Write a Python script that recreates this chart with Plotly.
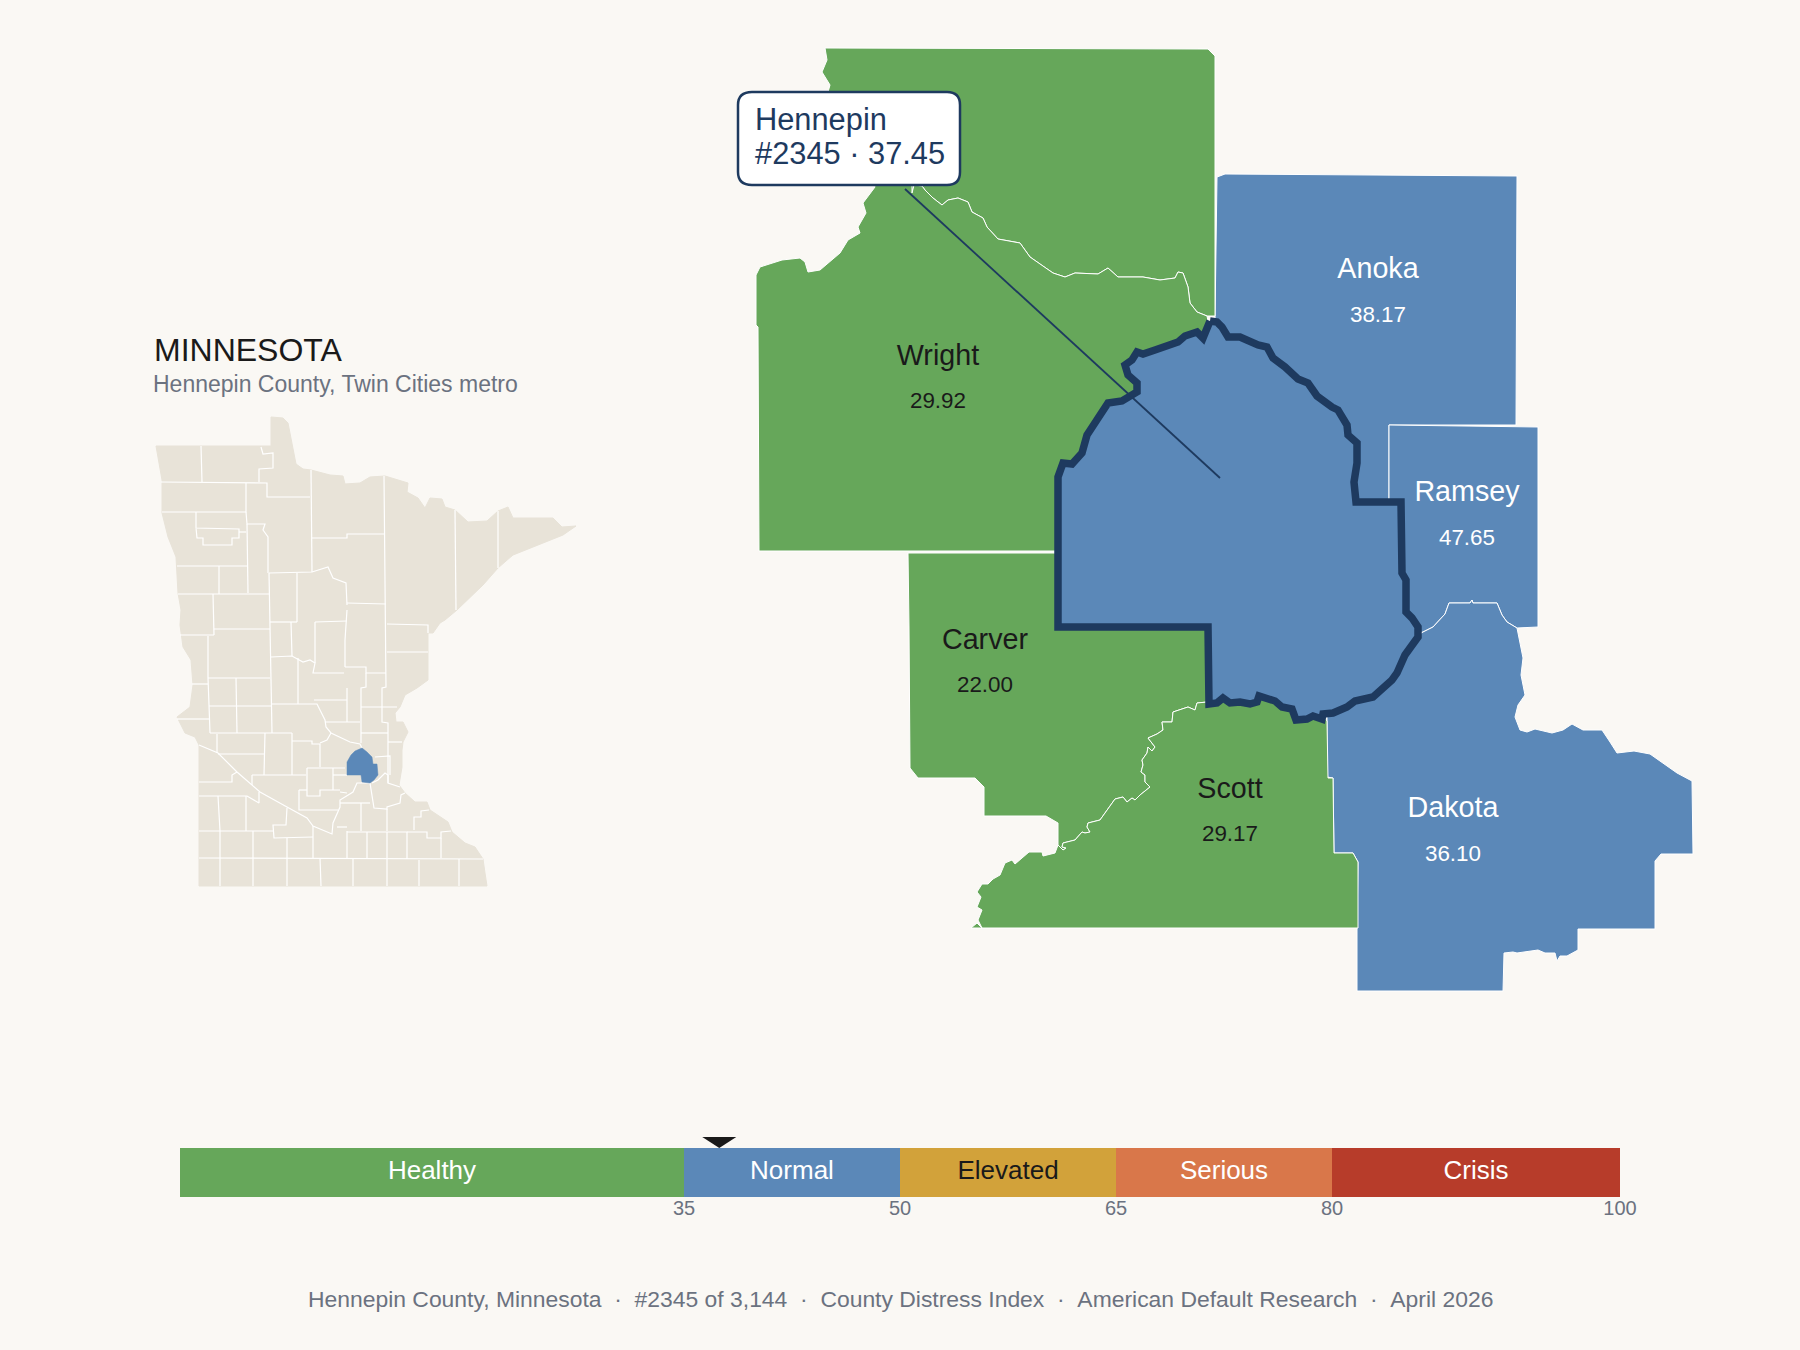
import numpy as np
import plotly.graph_objects as go

BG = "#FAF8F4"
GREEN = "#66A75A"
BLUE = "#5B88B8"
NAVY = "#1E3A5F"
BEIGE = "#E8E3D8"
INK = "#1A1A1A"
GRAY = "#6B7280"
FONT = "Liberation Sans"

# score bands
band_edges = [0, 35, 50, 65, 80, 100]
band_names = ["Healthy", "Normal", "Elevated", "Serious", "Crisis"]
band_colors = [GREEN, BLUE, "#D2A23A", "#D9774A", "#B73C2A"]
band_text = ["white", "white", INK, "white", "white"]
tick_vals = [35, 50, 65, 80, 100]

focus_name = "Hennepin"
focus_rank = 2345
focus_score = 37.45

label_names = ["Wright", "Anoka", "Ramsey", "Carver", "Scott", "Dakota"]
label_scores = [29.92, 38.17, 47.65, 22.00, 29.17, 36.10]
label_x = [938, 1378, 1467, 985, 1230, 1453]
label_y = [358, 271, 494, 642, 791, 810]
value_y = [402, 316, 539, 686, 835, 855]
label_color = [INK, "white", "white", INK, INK, "white"]

# shared river boundaries, metro map
crow_x = [912, 914, 922, 925, 933, 942, 948, 958, 968, 972, 983, 987, 998, 1020, 1030, 1040, 1053, 1065, 1075, 1098, 1108, 1118, 1143, 1160, 1175, 1178, 1183, 1188, 1190, 1197, 1207]
crow_y = [193, 185, 186, 190, 198, 205, 200, 198, 202, 212, 218, 227, 239, 243, 257, 264, 273, 277, 273, 274, 268, 277, 277, 280, 278, 272, 273, 287, 303, 312, 316]
mn_river_x = [1207, 1197, 1195, 1188, 1173, 1172, 1162, 1163, 1157, 1148, 1155, 1152, 1148, 1147, 1142, 1143, 1141, 1145, 1145, 1150, 1140, 1135, 1132, 1127, 1123, 1115, 1100, 1088, 1087, 1090, 1085, 1082, 1075, 1063, 1062, 1066, 1063, 1058]
mn_river_y = [702, 703, 710, 707, 712, 722, 722, 730, 734, 738, 747, 751, 747, 753, 760, 765, 772, 775, 782, 787, 795, 800, 798, 802, 797, 799, 820, 823, 827, 832, 833, 832, 840, 843, 847, 848, 850, 845]
miss_river_x = [1423, 1433, 1445, 1449, 1470, 1472, 1473, 1497, 1502, 1507, 1517]
miss_river_y = [632, 627, 614, 603, 603, 600, 603, 603, 615, 622, 628]

# county outlines, metro map
sherburne_x = [825, 827, 822, 830, 828, 840, 872] + crow_x + [1215, 1215, 1208, 825]
sherburne_y = [48, 60, 72, 85, 92, 150, 180] + crow_y + [316, 56, 49, 48]

wright_x = [872, 912] + crow_x + [1225, 1060, 759, 758, 756, 756, 760, 782, 800, 805, 808, 820, 840, 848, 860, 858, 866, 863, 875, 872]
wright_y = [180, 180] + crow_y + [400, 551, 551, 327, 325, 275, 267, 260, 258, 262, 272, 270, 253, 240, 233, 227, 213, 203, 187, 180]

anoka_x = [1217, 1225, 1517, 1516, 1389, 1389, 1350, 1215, 1217]
anoka_y = [177, 174, 176, 425, 425, 503, 503, 320, 177]

ramsey_x = [1389, 1538, 1538] + miss_river_x[::-1] + [1390, 1380, 1389, 1389]
ramsey_y = [425, 427, 627] + miss_river_y[::-1] + [640, 510, 500, 425]

dakota_x = miss_river_x + [1520, 1523, 1521, 1525, 1518, 1515, 1520, 1527, 1535, 1552, 1563, 1572, 1583, 1602, 1610, 1617, 1634, 1650, 1677, 1692, 1693, 1661, 1655, 1655, 1578, 1578, 1567, 1560, 1557, 1555, 1545, 1538, 1517, 1513, 1504, 1503, 1357, 1357, 1358, 1353, 1334, 1333, 1327, 1327, 1380, 1423]
dakota_y = miss_river_y + [643, 658, 675, 695, 705, 717, 730, 732, 729, 733, 730, 724, 730, 730, 742, 753, 751, 754, 773, 781, 854, 854, 861, 929, 929, 950, 956, 956, 961, 953, 953, 950, 953, 952, 953, 991, 991, 928, 862, 853, 853, 778, 777, 690, 660, 632]

scott_x = mn_river_x + [1055, 1043, 1042, 1029, 1015, 1012, 1005, 1000, 993, 988, 982, 977, 981, 977, 982, 978, 982, 977, 971, 1358, 1358, 1353, 1334, 1333, 1328, 1327, 1300, 1220, 1207]
scott_y = mn_river_y + [853, 856, 852, 852, 864, 860, 863, 875, 879, 884, 884, 892, 897, 907, 910, 920, 928, 923, 928, 928, 862, 853, 853, 778, 778, 721, 680, 680, 702]

carver_x = [908, 1055, 1250, 1250] + mn_river_x + [1058, 1046, 984, 984, 975, 918, 910, 909, 908]
carver_y = [553, 553, 553, 690] + mn_river_y + [823, 816, 816, 787, 778, 778, 768, 627, 553]

hennepin_x = [1210, 1217, 1222, 1228, 1240, 1248, 1258, 1267, 1273, 1285, 1298, 1308, 1317, 1332, 1338, 1347, 1348, 1357, 1357, 1354, 1356, 1401, 1402, 1406, 1406, 1412, 1418, 1418, 1407, 1405, 1397, 1392, 1373, 1355, 1347, 1333, 1323, 1322, 1313, 1307, 1296, 1292, 1282, 1275, 1259, 1257, 1250, 1240, 1230, 1223, 1217, 1209, 1208, 1058, 1058, 1063, 1072, 1082, 1087, 1098, 1108, 1122, 1137, 1137, 1128, 1125, 1132, 1137, 1143, 1155, 1165, 1178, 1185, 1197, 1203, 1208, 1210]
hennepin_y = [321, 322, 327, 337, 337, 341, 345, 347, 358, 367, 379, 383, 396, 407, 410, 425, 435, 443, 463, 482, 502, 502, 573, 580, 612, 618, 627, 637, 650, 655, 673, 680, 697, 701, 707, 713, 714, 719, 716, 719, 720, 709, 707, 701, 696, 702, 704, 702, 703, 698, 703, 704, 627, 627, 477, 463, 464, 453, 435, 417, 403, 401, 392, 383, 375, 365, 360, 352, 354, 350, 347, 342, 336, 332, 338, 327, 321]

leader_x = [1220, 905]
leader_y = [478, 189]

# state outline and county lines, inset map
state_x = [156, 271, 271, 283, 288, 295, 296, 303, 311, 330, 343, 345, 360, 370, 385, 408, 407, 418, 425, 430, 442, 445, 455, 468, 487, 498, 508, 513, 553, 562, 576, 563, 532, 513, 498, 483, 457, 445, 440, 433, 428, 428, 428, 417, 405, 400, 395, 396, 403, 408, 403, 402, 402, 399, 405, 415, 427, 430, 448, 452, 465, 475, 483, 485, 487, 199, 199, 195, 185, 177, 190, 193, 191, 183, 180, 181, 178, 176, 168, 162, 162, 156]
state_y = [446, 446, 417, 418, 423, 457, 464, 469, 470, 475, 476, 484, 483, 477, 476, 483, 492, 498, 508, 498, 499, 507, 510, 522, 521, 511, 507, 518, 518, 527, 526, 535, 547, 555, 568, 585, 610, 620, 623, 633, 633, 653, 680, 688, 695, 707, 713, 722, 722, 732, 742, 750, 767, 785, 793, 802, 802, 810, 822, 832, 843, 847, 859, 873, 886, 886, 745, 737, 733, 717, 707, 685, 660, 647, 625, 610, 593, 557, 537, 513, 480, 446]

county_lines = [
    [(201, 446), (202, 482)],
    [(161, 482), (267, 483), (267, 497), (310, 497)],
    [(259, 482), (259, 469), (273, 468), (273, 453), (263, 454), (261, 447)],
    [(311, 470), (312, 572)],
    [(384, 476), (385, 603), (386, 687), (382, 688), (382, 722), (388, 723), (388, 783)],
    [(455, 510), (456, 610)],
    [(498, 511), (498, 568)],
    [(246, 483), (246, 512), (162, 512)],
    [(196, 512), (196, 528), (239, 529), (239, 538), (232, 538), (232, 545), (203, 545), (203, 538), (197, 538), (196, 528)],
    [(239, 532), (246, 532)],
    [(246, 512), (247, 524), (265, 524), (263, 530), (268, 537), (268, 573)],
    [(247, 524), (248, 593)],
    [(177, 566), (248, 566)],
    [(219, 566), (219, 594)],
    [(178, 594), (269, 594)],
    [(269, 573), (312, 572), (328, 567), (333, 578), (346, 583), (347, 605)],
    [(269, 573), (270, 622), (271, 703), (272, 733)],
    [(297, 573), (297, 622)],
    [(213, 594), (214, 635)],
    [(312, 538), (347, 538), (347, 534), (385, 534)],
    [(347, 603), (386, 604)],
    [(180, 635), (214, 635)],
    [(208, 636), (208, 678), (209, 705), (210, 733)],
    [(214, 629), (270, 629)],
    [(270, 622), (297, 622)],
    [(208, 678), (270, 678)],
    [(192, 684), (208, 684)],
    [(236, 678), (237, 733)],
    [(209, 706), (271, 706)],
    [(177, 719), (209, 719)],
    [(210, 733), (292, 733)],
    [(217, 734), (217, 753)],
    [(199, 745), (218, 753), (237, 772), (250, 783), (260, 792), (287, 807), (307, 818), (313, 826), (332, 834), (333, 823), (340, 807), (340, 800), (353, 792), (357, 783), (370, 783)],
    [(218, 754), (265, 754)],
    [(265, 733), (264, 775)],
    [(237, 772), (232, 775), (232, 782), (199, 782)],
    [(252, 775), (306, 775)],
    [(252, 775), (252, 785)],
    [(199, 796), (247, 796), (259, 803), (259, 792)],
    [(218, 796), (220, 831), (220, 858), (220, 886)],
    [(246, 796), (246, 831)],
    [(199, 831), (273, 831)],
    [(287, 808), (286, 825), (273, 825), (274, 838), (313, 837)],
    [(253, 831), (253, 886)],
    [(287, 838), (287, 886)],
    [(313, 826), (313, 858)],
    [(199, 858), (483, 859)],
    [(320, 858), (321, 886)],
    [(353, 859), (353, 886)],
    [(387, 859), (387, 886)],
    [(419, 860), (419, 886)],
    [(459, 859), (459, 886)],
    [(292, 733), (292, 775)],
    [(292, 741), (312, 741), (312, 744), (320, 744), (320, 767)],
    [(331, 733), (327, 740), (320, 743)],
    [(272, 704), (317, 704), (325, 720), (326, 727), (331, 733), (340, 737), (350, 742), (360, 744), (362, 748)],
    [(314, 700), (347, 700)],
    [(298, 658), (298, 704)],
    [(271, 657), (292, 656), (303, 662), (310, 660), (315, 663), (313, 673), (344, 673)],
    [(291, 622), (292, 656)],
    [(315, 622), (315, 663)],
    [(315, 622), (347, 621)],
    [(347, 610), (345, 640), (345, 667)],
    [(347, 688), (347, 722)],
    [(345, 667), (366, 667), (366, 673), (386, 673)],
    [(366, 673), (366, 687), (361, 688), (361, 743)],
    [(361, 707), (397, 707)],
    [(325, 722), (360, 722)],
    [(361, 733), (388, 733)],
    [(388, 742), (402, 742)],
    [(387, 624), (428, 625), (428, 633)],
    [(387, 652), (428, 652)],
    [(375, 757), (390, 756), (390, 775)],
    [(307, 768), (345, 768)],
    [(307, 768), (307, 796), (320, 796), (320, 790), (340, 790)],
    [(333, 768), (333, 790)],
    [(340, 792), (347, 793)],
    [(333, 775), (347, 775)],
    [(370, 783), (374, 808), (387, 809), (387, 807), (400, 803), (401, 795), (405, 793)],
    [(372, 783), (378, 780), (385, 773), (388, 775), (388, 783), (400, 787)],
    [(299, 790), (307, 790)],
    [(299, 790), (299, 810), (338, 810)],
    [(340, 803), (370, 803)],
    [(361, 803), (361, 831)],
    [(387, 809), (387, 831)],
    [(347, 831), (347, 858)],
    [(337, 827), (347, 827)],
    [(347, 832), (407, 832), (407, 859)],
    [(367, 832), (367, 858)],
    [(387, 832), (387, 858)],
    [(414, 830), (414, 817), (421, 817), (421, 811), (429, 810)],
    [(407, 832), (427, 832), (427, 838), (441, 838), (441, 832), (451, 831)],
    [(441, 838), (441, 858)],
]

inset_focus_x = [347, 347, 351, 355, 362, 367, 372, 373, 377, 378, 374, 370, 362, 361, 347]
inset_focus_y = [775, 762, 755, 751, 748, 752, 757, 764, 764, 775, 780, 783, 782, 775, 775]

footer = "\u00a0\u00a0·\u00a0\u00a0".join([
    "Hennepin County, Minnesota", "#2345 of 3,144", "County Distress Index",
    "American Default Research", "April 2026",
])

fig = go.Figure()

# inset
fig.add_trace(go.Scatter(x=state_x, y=state_y, mode="lines", fill="toself", fillcolor=BEIGE,
                         line=dict(color=BEIGE, width=1), hoverinfo="skip"))
line_x, line_y = [], []
for seg in county_lines:
    line_x += [p[0] for p in seg] + [None]
    line_y += [p[1] for p in seg] + [None]
fig.add_trace(go.Scatter(x=line_x, y=line_y, mode="lines", line=dict(color="white", width=1.2),
                         hoverinfo="skip"))
fig.add_trace(go.Scatter(x=inset_focus_x, y=inset_focus_y, mode="lines", fill="toself", fillcolor=BLUE,
                         line=dict(color=BLUE, width=0.5), hoverinfo="skip"))

# metro counties
counties = [
    (anoka_x, anoka_y, BLUE),
    (ramsey_x, ramsey_y, BLUE),
    (dakota_x, dakota_y, BLUE),
    (sherburne_x, sherburne_y, GREEN),
    (wright_x, wright_y, GREEN),
    (carver_x, carver_y, GREEN),
    (scott_x, scott_y, GREEN),
]
for cx, cy, col in counties:
    fig.add_trace(go.Scatter(x=cx, y=cy, mode="lines", fill="toself", fillcolor=col,
                             line=dict(color="white", width=1), hoverinfo="skip"))
fig.add_trace(go.Scatter(x=hennepin_x, y=hennepin_y, mode="lines", fill="toself", fillcolor=BLUE,
                         line=dict(color=NAVY, width=7.5), hoverinfo="skip"))
fig.add_trace(go.Scatter(x=leader_x, y=leader_y, mode="lines", line=dict(color=NAVY, width=1.8),
                         hoverinfo="skip"))

# county labels
fig.add_trace(go.Scatter(x=label_x, y=label_y, mode="text", text=label_names, textposition="middle center",
                         textfont=dict(family=FONT, size=28.7, color=label_color), hoverinfo="skip"))
fig.add_trace(go.Scatter(x=label_x, y=value_y, mode="text", text=[f"{v:.2f}" for v in label_scores],
                         textposition="middle center",
                         textfont=dict(family=FONT, size=22.4, color=label_color), hoverinfo="skip"))

# index bar
widths = np.diff(band_edges)
mids = np.array(band_edges[:-1]) + widths / 2
for i, name in enumerate(band_names):
    fig.add_trace(go.Bar(x=[widths[i]], y=[0], base=[band_edges[i]], orientation="h", width=1,
                         marker=dict(color=band_colors[i], line=dict(width=0)),
                         xaxis="x2", yaxis="y2", hoverinfo="skip"))
fig.add_trace(go.Scatter(x=mids, y=[0] * len(mids), mode="text", text=band_names, textposition="middle center",
                         textfont=dict(family=FONT, size=26, color=band_text),
                         xaxis="x2", yaxis="y2", hoverinfo="skip"))

fig.update_layout(
    width=1800, height=1350,
    margin=dict(l=0, r=0, t=0, b=0, autoexpand=False),
    paper_bgcolor=BG, plot_bgcolor=BG,
    showlegend=False,
    barmode="overlay",
    xaxis=dict(domain=[0, 1], range=[0, 1800], visible=False, fixedrange=True),
    yaxis=dict(domain=[0, 1], range=[1350, 0], visible=False, fixedrange=True),
    xaxis2=dict(domain=[0.1, 0.9], range=[0, 100], anchor="y2", tickmode="array", tickvals=tick_vals,
                ticktext=[str(t) for t in tick_vals], showgrid=False, zeroline=False, showline=False,
                ticks="", ticklabelstandoff=-3, tickfont=dict(family=FONT, size=20, color=GRAY)),
    yaxis2=dict(domain=[1 - 1197 / 1350, 1 - 1148 / 1350], range=[-0.5, 0.5], anchor="x2", visible=False),
    font=dict(family=FONT),
    shapes=[
        # callout box
        dict(type="path", xref="x", yref="y", fillcolor="white", line=dict(color=NAVY, width=2.5),
             path="M 752,92 L 947,92 Q 960,92 960,105 L 960,172 Q 960,185 947,185 L 752,185 Q 738,185 738,172 "
                  "L 738,105 Q 738,92 752,92 Z"),
        # score marker, hung on the index axis
        dict(type="path", xref="x2", yref="paper", xsizemode="pixel", ysizemode="pixel",
             xanchor=focus_score, yanchor=1 - 1148 / 1350, fillcolor=INK, line=dict(width=0),
             path="M -17,11 L 17,11 L 0,0 Z"),
    ],
    annotations=[
        dict(x=753, y=119, xref="x", yref="y", text=focus_name, showarrow=False, xanchor="left",
             font=dict(family=FONT, size=30.8, color=NAVY)),
        dict(x=753, y=153, xref="x", yref="y", text=f"#{focus_rank} · {focus_score}", showarrow=False,
             xanchor="left", font=dict(family=FONT, size=30.8, color=NAVY)),
        dict(x=152, y=350, xref="x", yref="y", text="MINNESOTA", showarrow=False, xanchor="left",
             font=dict(family=FONT, size=32, color=INK)),
        dict(x=151, y=384, xref="x", yref="y", text="Hennepin County, Twin Cities metro", showarrow=False,
             xanchor="left", font=dict(family=FONT, size=23, color=GRAY)),
        dict(x=900, y=1299, xref="x", yref="y", text=footer, showarrow=False, xanchor="center",
             font=dict(family=FONT, size=22.9, color=GRAY)),
    ],
)

# drop the browser's default page margin
page_script = "document.body.style.margin='0';document.body.style.background='" + BG + "';"
fig.write_html("out.html", config={"displayModeBar": False}, post_script=page_script)
